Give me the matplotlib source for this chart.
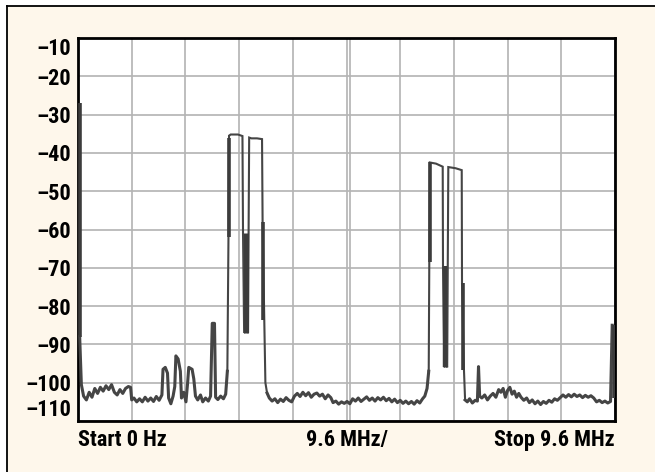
import numpy as np
import matplotlib
matplotlib.use("Agg")
import matplotlib.pyplot as plt
from matplotlib.lines import Line2D
from matplotlib.patches import Rectangle
from matplotlib import font_manager as fm

# ---------------- data (frequency in MHz, level in dB) ----------------
y_ticks = [-10, -20, -30, -40, -50, -60, -70, -80, -90, -100, -110]
y_tick_labels = ["\u201310", "\u201320", "\u201330", "\u201340", "\u201350", "\u201360",
                 "\u201370", "\u201380", "\u201390", "\u2013100", "\u2013110"]
x_labels = ["Start 0 Hz", "9.6 MHz/", "Stop 9.6 MHz"]
span_mhz = 9.6

# left edge + low band noise
seg1_f = [0.03, 0.06, 0.10, 0.15, 0.20, 0.25, 0.30, 0.35, 0.40, 0.45, 0.50, 0.55, 0.60,
          0.65, 0.70, 0.75, 0.80, 0.85, 0.90, 0.94, 0.96, 1.00, 1.05, 1.10, 1.15, 1.20,
          1.25, 1.30, 1.35, 1.40, 1.45, 1.50, 1.52, 1.56, 1.60, 1.62, 1.66, 1.70, 1.73,
          1.75, 1.79, 1.83, 1.85, 1.89, 1.93, 1.96, 1.98, 2.04, 2.07, 2.10, 2.14, 2.19,
          2.23, 2.28, 2.33, 2.37, 2.40, 2.44, 2.46, 2.50, 2.55, 2.60, 2.64, 2.67]
seg1_db = [-88, -100.5, -103.5, -104.5, -102.5, -103.8, -101.5, -102.8, -101.2, -102.2,
           -100.8, -101.8, -100.5, -102.5, -103.2, -101.8, -102.8, -101.5, -101.0, -101.2,
           -104.5, -104.0, -105.0, -104.2, -105.0, -103.8, -104.8, -104.0, -104.9, -103.6,
           -104.6, -103.2, -96.5, -96.0, -97.5, -104.0, -105.5, -103.5, -101.0, -93.0,
           -93.8, -97.0, -104.0, -102.5, -105.0, -100.0, -96.0, -96.5, -99.0, -103.5,
           -104.5, -103.2, -105.0, -104.0, -104.8, -103.5, -84.5, -84.5, -103.8, -104.4,
           -103.5, -104.2, -103.0, -97.0]

# first channel pair
seg2_f = [2.67, 2.69, 2.70, 2.73, 2.86, 2.94, 2.95, 2.97, 3.01, 3.04, 3.05, 3.06, 3.10,
          3.20, 3.29, 3.30, 3.33, 3.35, 3.38]
seg2_db = [-97.0, -62, -35.5, -35.2, -35.2, -35.6, -61, -87, -86, -87, -60, -36.0, -36.2,
           -36.2, -36.4, -58, -83.5, -100, -102.7]

# middle noise floor
seg3_f = [3.38, 3.42, 3.47, 3.52, 3.57, 3.62, 3.67, 3.72, 3.77, 3.82, 3.87, 3.92, 3.97,
          4.02, 4.07, 4.12, 4.17, 4.22, 4.27, 4.32, 4.37, 4.42, 4.47, 4.52, 4.56, 4.61,
          4.66, 4.71, 4.76, 4.81, 4.86, 4.91, 4.96, 5.01, 5.06, 5.11, 5.16, 5.21, 5.26,
          5.31, 5.36, 5.41, 5.46, 5.51, 5.56, 5.61, 5.66, 5.71, 5.76, 5.81, 5.86, 5.91,
          5.96, 6.01, 6.06, 6.11, 6.16, 6.20, 6.24, 6.27]
seg3_db = [-102.7, -104.0, -104.8, -104.2, -105.2, -104.3, -104.9, -103.9, -104.6, -105.0,
           -103.5, -102.8, -103.6, -102.5, -103.4, -102.6, -103.8, -103.0, -102.7, -103.5,
           -103.0, -104.2, -103.2, -103.9, -105.2, -104.8, -105.6, -105.0, -105.4, -104.9,
           -105.5, -104.2, -104.8, -104.0, -104.9, -104.3, -103.7, -104.6, -104.0, -104.8,
           -103.9, -104.5, -103.8, -104.7, -104.1, -105.0, -104.3, -105.2, -104.6, -105.4,
           -104.8, -105.5, -104.9, -105.6, -104.7, -105.3, -104.2, -103.5, -101.5, -97.0]

# second channel pair
seg4_f = [6.27, 6.28, 6.29, 6.40, 6.52, 6.525, 6.55, 6.58, 6.60, 6.61, 6.62, 6.75, 6.86,
          6.865, 6.90, 6.92]
seg4_db = [-97.0, -68.5, -42.5, -42.8, -43.6, -69.5, -96, -95, -96, -70, -43.7, -44.0,
           -44.5, -74, -96.7, -104.5]

# upper noise floor + right edge
seg5_f = [6.92, 6.96, 7.00, 7.05, 7.10, 7.14, 7.16, 7.18, 7.22, 7.27, 7.32, 7.37, 7.42,
          7.47, 7.52, 7.56, 7.60, 7.64, 7.68, 7.72, 7.76, 7.80, 7.84, 7.88, 7.92, 7.97,
          8.02, 8.07, 8.12, 8.17, 8.22, 8.27, 8.32, 8.37, 8.42, 8.47, 8.52, 8.57, 8.62,
          8.67, 8.72, 8.77, 8.82, 8.87, 8.92, 8.97, 9.02, 9.07, 9.12, 9.17, 9.22, 9.27,
          9.32, 9.37, 9.42, 9.47, 9.52, 9.55]
seg5_db = [-104.5, -105.0, -104.2, -105.3, -104.6, -104.8, -95.8, -103.5, -104.0, -103.2,
           -104.5, -103.5, -102.8, -103.8, -101.8, -102.5, -101.5, -103.8, -102.0, -101.2,
           -103.0, -102.2, -103.8, -102.8, -103.8, -104.6, -104.0, -105.2, -104.5, -105.5,
           -104.8, -105.7, -104.9, -105.4, -104.6, -105.1, -104.2, -104.6, -103.9, -103.2,
           -103.8, -103.1, -103.7, -103.0, -103.6, -103.2, -103.9, -103.3, -103.8, -103.4,
           -104.0, -105.0, -104.6, -105.2, -104.8, -105.3, -104.9, -85.0]

# dense (max-hold) vertical bands of the trace
band_f = [0.03, 2.695, 3.005, 3.31, 6.29, 6.565, 6.885, 9.575]
band_lo = [-88, -62, -87, -83.5, -68.5, -96, -96.7, -104]
band_hi = [-27, -36, -61, -58, -42.5, -69.5, -74, -85]


# ---------------- font: a bold condensed sans, if one is installed ----------------
def _weight(w):
    if isinstance(w, str):
        return fm.weight_dict.get(w, 400)
    return w


def pick_condensed_bold():
    pref = ['Roboto Condensed', 'Liberation Sans Narrow', 'Noto Sans', 'Open Sans',
            'DejaVu Sans', 'Roboto', 'Lato', 'Inter']
    stretch_score = {'condensed': 0, 'semi-condensed': 1, 'extra-condensed': 2,
                     'ultra-condensed': 3}
    best, best_key = None, None
    for f in fm.fontManager.ttflist:
        if f.style != 'normal':
            continue
        name = f.name
        st = f.stretch if isinstance(f.stretch, str) else str(f.stretch)
        cond = ('Condensed' in name or 'Narrow' in name)
        if st in stretch_score:
            s_sc = stretch_score[st]
        elif cond:
            s_sc = 0
        else:
            continue
        base = None
        for i, p in enumerate(pref):
            if name.startswith(p):
                base = i
                break
        if base is None:
            base = len(pref)
        key = (s_sc, abs(_weight(f.weight) - 700), base)
        if best_key is None or key < best_key:
            best, best_key = f, key
    return best


_fnt = pick_condensed_bold()
if _fnt is not None:
    def FP(size):
        return fm.FontProperties(fname=_fnt.fname, size=size)
else:
    def FP(size):
        return fm.FontProperties(family=['Roboto', 'DejaVu Sans'], weight='bold', size=size)

# ---------------- drawing ----------------
W, H = 655, 472
fig = plt.figure(figsize=(W / 100, H / 100), dpi=100)
fig.patch.set_facecolor('white')

cream = '#FEF7EB'
fig.patches.append(Rectangle((7 / W, 0), 1 - 7 / W, 466 / H, transform=fig.transFigure,
                             facecolor=cream, edgecolor='none', zorder=-10))
fig.lines.append(Line2D([7 / W, 7 / W], [0, 466 / H], transform=fig.transFigure,
                        color='black', lw=1.3, zorder=-5))
fig.lines.append(Line2D([7 / W, 1], [466 / H, 466 / H], transform=fig.transFigure,
                        color='black', lw=1.3, zorder=-5))

ax = fig.add_axes([78 / W, 51 / H, 537 / W, 383 / H])
ax.set_zorder(5)
ax.set_facecolor('white')
ax.set_xlim(0, span_mhz)
ax.set_ylim(-110, -10)

ax.set_xticks(np.linspace(0, span_mhz, 11))
ax.set_yticks(y_ticks)
ax.set_yticklabels(y_tick_labels)
for lab in ax.get_yticklabels():
    lab.set_fontproperties(FP(16))
ax.tick_params(axis='both', length=0)
ax.tick_params(axis='x', labelbottom=False)
ax.tick_params(axis='y', pad=5)
labels = ax.get_yticklabels()
labels[0].set_va('top')
labels[-1].set_va('bottom')

ax.grid(True, color='#b3b3b3', lw=1.2)
ax.axvline(4.86, color='#b3b3b3', lw=1.2, zorder=0.5)
ax.set_axisbelow(True)
for s in ax.spines.values():
    s.set_color('black')
    s.set_linewidth(2)

trace_col = '#454545'
noise_segments = [(seg1_f, seg1_db), (seg3_f, seg3_db), (seg5_f, seg5_db)]
carrier_segments = [(seg2_f, seg2_db), (seg4_f, seg4_db)]
for f, d in noise_segments:
    ax.plot(f, d, color=trace_col, lw=2.2, solid_joinstyle='round', zorder=3)
for f, d in carrier_segments:
    ax.plot(f, d, color=trace_col, lw=1.5, solid_joinstyle='miter', zorder=3)

band_widths = [2.6, 2.6, 3.6, 2.6, 2.6, 3.2, 2.6, 2.6]
ax.vlines(band_f, band_lo, band_hi, colors='#3c3c3c', linewidths=band_widths, zorder=3)

for txt, xa, ha in zip(x_labels, [0, 0.5, 1], ['left', 'center', 'right']):
    ax.annotate(txt, xy=(xa, 0), xycoords='axes fraction', xytext=(0, -19),
                textcoords='offset pixels', ha=ha, va='center', fontproperties=FP(16),
                color='black', annotation_clip=False)

fig.savefig('out.png', dpi=100, facecolor=fig.get_facecolor())
